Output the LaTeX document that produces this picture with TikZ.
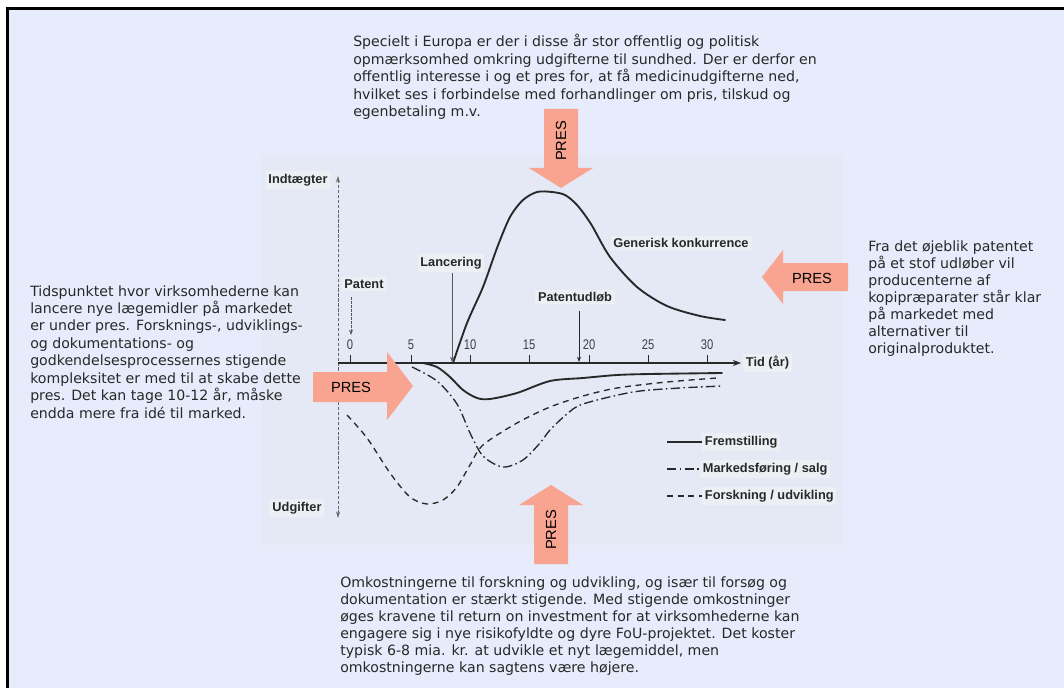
\documentclass[tikz,border=0pt]{standalone}
\usepackage{fontspec}
\setmainfont{DejaVu Sans}
\newfontfamily\chartfont{Liberation Sans}
\newfontfamily\tickfont[FakeStretch=0.8]{Liberation Sans}
\usetikzlibrary{arrows.meta}
\definecolor{pagebg}{RGB}{231,236,252}
\definecolor{panelbg}{RGB}{228,233,245}
\definecolor{labelbg}{RGB}{236,240,245}
\definecolor{presfill}{RGB}{249,163,145}
\definecolor{ink}{RGB}{40,40,40}
\tikzset{
  para/.style={anchor=north west, inner sep=0pt, align=left, text=ink,
    font=\fontsize{10.6}{13.1}\selectfont},
  lbl/.style={font=\chartfont\bfseries\fontsize{9.6}{11}\selectfont, fill=labelbg,
    inner sep=2pt, text=ink},
  legtext/.style={lbl, anchor=west},
  ticklbl/.style={font=\tickfont\fontsize{10.5}{11}\selectfont, text=black!75, inner sep=0pt},
  curve/.style={line width=1.4pt, ink, line cap=round, line join=round},
  dashcurve/.style={line width=1pt, ink, dash pattern=on 4.5pt off 3.5pt},
  dotdashcurve/.style={line width=1pt, ink, dash pattern=on 7pt off 2.5pt on 1.2pt off 2.5pt},
  pointer/.style={line width=0.5pt, -{Stealth[length=4pt,width=3pt]}},
  pres/.style={font=\chartfont\fontsize{11}{12}\selectfont, text=black, inner sep=0pt},
  presarrow/.style={fill=presfill, draw=none}
}
\begin{document}
\begin{tikzpicture}[x=0.75pt,y=-0.75pt]
\useasboundingbox (0,0) rectangle (1064,688);
% page
\fill[white] (0,0) rectangle (1064,688);
\fill[pagebg] (6,7) rectangle (1064,688);
\fill[black] (6,7.5) rectangle (1064,10);
\fill[black] (6,7.5) rectangle (8.5,688);
% chart panel
\fill[panelbg] (262,155) rectangle (842,545);

% paragraphs
\node[para] (toptext) at (353,34) {Specielt i Europa er der i disse år stor offentlig og politisk\\
opmærksomhed omkring udgifterne til sundhed. Der er derfor en\\
offentlig interesse i og et pres for, at få medicinudgifterne ned,\\
hvilket ses i forbindelse med forhandlinger om pris, tilskud og\\
egenbetaling m.v.};
\node[para] (lefttext) at (30,285) {Tidspunktet hvor virksomhederne kan\\
lancere nye lægemidler på markedet\\
er under pres. Forsknings-, udviklings-\\
og dokumentations- og\\
godkendelsesprocessernes stigende\\
kompleksitet er med til at skabe dette\\
pres. Det kan tage 10-12 år, måske\\
endda mere fra idé til marked.};
\node[para, font=\fontsize{10.6}{12.8}\selectfont] (righttext) at (868,240) {Fra det øjeblik patentet\\
på et stof udløber vil\\
producenterne af\\
kopipræparater står klar\\
på markedet med\\
alternativer til\\
originalproduktet.};
\node[para, font=\fontsize{10.6}{12.8}\selectfont] (bottomtext) at (340,576) {Omkostningerne til forskning og udvikling, og især til forsøg og\\
dokumentation er stærkt stigende. Med stigende omkostninger\\
øges kravene til return on investment for at virksomhederne kan\\
engagere sig i nye risikofyldte og dyre FoU-projektet. Det koster\\
typisk 6-8 mia. kr. at udvikle et nyt lægemiddel, men\\
omkostningerne kan sagtens være højere.};

% axes
\coordinate (vtop) at (338,176);
\coordinate (vbot) at (338,518);
\coordinate (origin) at (338,363);
\coordinate (hend) at (741,363);
\draw[gray!80!black, line width=0.5pt, dash pattern=on 2.5pt off 1.2pt,
  {Stealth[length=5pt,width=3pt]}-{Stealth[length=5pt,width=3pt]}] (vbot) -- (vtop);
\draw[ink, line width=1.1pt, -{Stealth[length=6pt,width=4.5pt]}] (origin) -- (hend);
\foreach \x/\t in {350/0,411/5,470/10,529/15,589/20,648/25,707/30} {
  \draw[ink, line width=0.6pt] (\x,363) -- (\x,355);
  \node[ticklbl] (tick\t) at (\x,345) {\t};
}
\node[lbl, anchor=west] (tid) at (743,363) {Tid (år)};
\node[lbl] (indt) at (298,180) {Indtægter};
\node[lbl] (udg) at (297,508) {Udgifter};

% labels with pointers
\node[lbl] (patent) at (364,284) {Patent};
\coordinate (patentpt) at (351,335);
\draw[pointer, gray!70!black, dash pattern=on 2pt off 1pt] (351,297) -- (patentpt);
\node[lbl] (lanc) at (451,263) {Lancering};
\coordinate (lancpt) at (452,362);
\draw[pointer, gray!70!black] (452,273) -- (lancpt);
\node[lbl] (pudl) at (575,297) {Patentudløb};
\coordinate (pudlpt) at (579,362);
\draw[pointer, ink] (579,311) -- (pudlpt);
\node[lbl] (gen) at (681,243) {Generisk konkurrence};

% curves
\draw[curve] plot[smooth, tension=0.5] coordinates {(453,363) (467,323) (483,287) (497,248) (510,217) (523,200) (537,192) (552,192) (565,195) (577,205) (591,224) (610,257) (637,287) (667,306) (700,316) (725,320)};
\draw[curve] plot[smooth, tension=0.5] coordinates {(423,363) (437,367) (450,377) (463,390) (477,398) (490,399) (517,393) (550,381) (583,378) (617,375) (650,374) (722,373)};
\draw[dotdashcurve] plot[smooth, tension=0.5] coordinates {(412,367) (437,381) (457,404) (470,433) (483,456) (503,467) (523,460) (540,443) (550,430) (567,414) (583,404) (633,392) (680,388) (723,386)};
\draw[dashcurve] plot[smooth, tension=0.5] coordinates {(347,415) (367,438) (390,473) (410,497) (427,504) (443,500) (457,487) (470,465) (483,445) (517,423) (550,407) (583,396) (617,388) (667,382) (717,378)};

% legend
\node[legtext] (l1) at (702,442) {Fremstilling};
\node[legtext] (l2) at (700,469) {Markedsføring / salg};
\node[legtext] (l3) at (702,496) {Forskning / udvikling};
\draw[curve, line cap=butt] (667,442) -- (l1.west);
\draw[dotdashcurve] (667,469) -- (l2.west);
\draw[dashcurve] (667,496) -- (l3.west);

% PRES arrows
\fill[presarrow] (313,372) -- (387,372) -- (387,352) -- (413,386) -- (387,420) -- (387,402) -- (313,402) -- cycle;
\node[pres] (presL) at (351,387) {PRES};
\fill[presarrow] (848,263) -- (783,263) -- (783,250) -- (762,277) -- (783,304) -- (783,291) -- (848,291) -- cycle;
\node[pres] (presR) at (812,278) {PRES};
\fill[presarrow] (544,109) -- (578,109) -- (578,168) -- (593,168) -- (561,188) -- (529,168) -- (544,168) -- cycle;
\node[pres, rotate=90] (presT) at (561,141) {PRES};
\fill[presarrow] (534,564) -- (568,564) -- (568,505) -- (583,505) -- (551,485) -- (519,505) -- (534,505) -- cycle;
\node[pres, rotate=90] (presB) at (551,530) {PRES};
\end{tikzpicture}
\end{document}
